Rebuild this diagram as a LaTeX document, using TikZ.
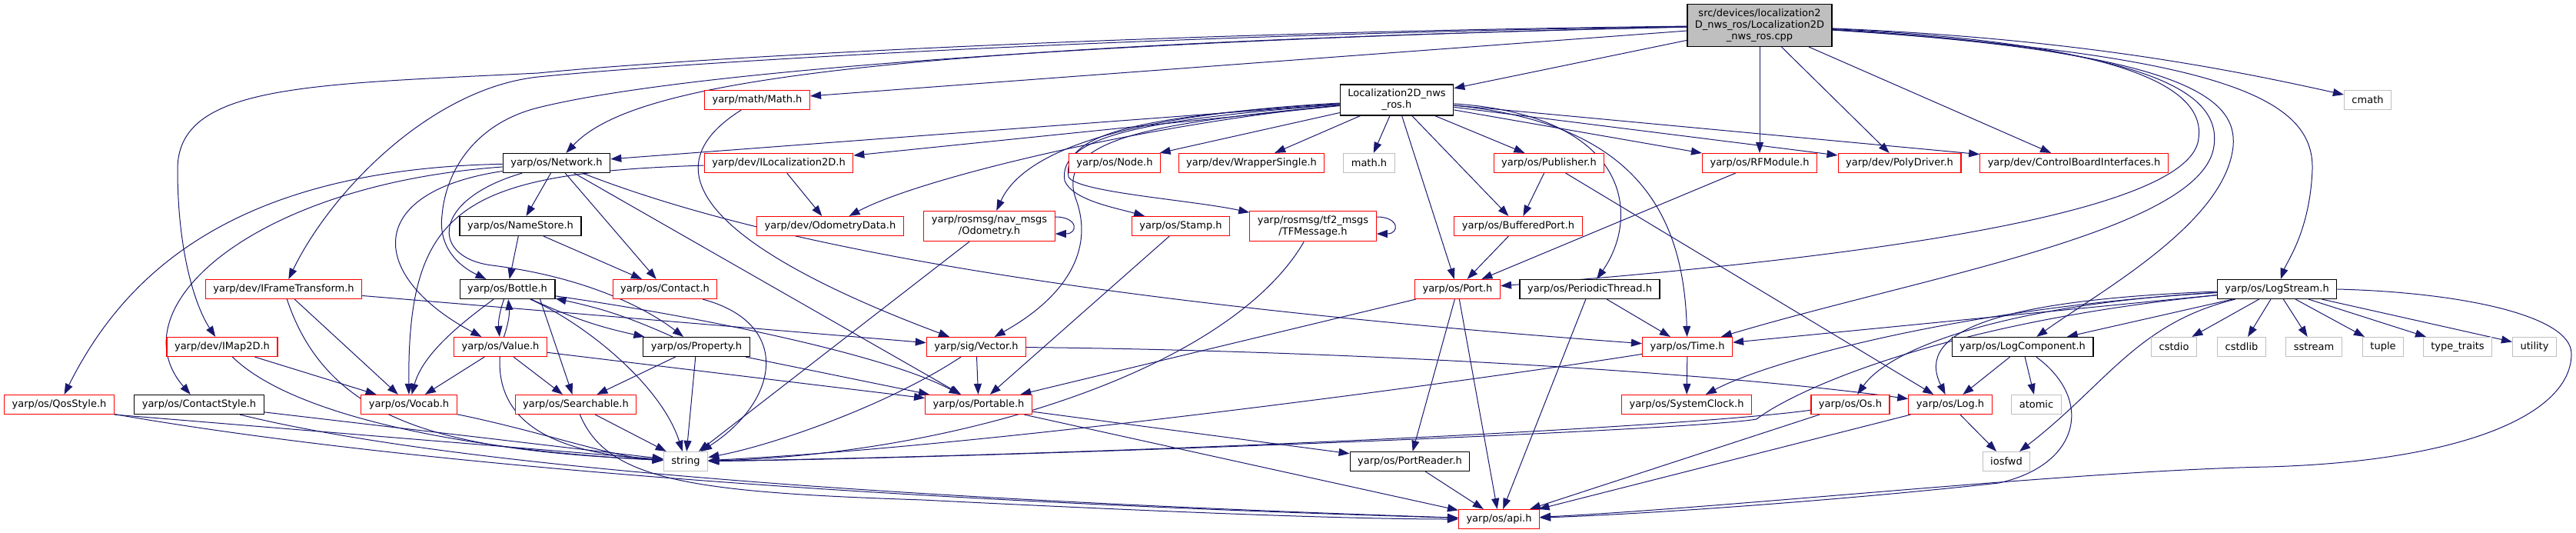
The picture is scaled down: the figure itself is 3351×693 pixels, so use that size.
\documentclass[tikz,border=0pt]{standalone}
\usepackage{fontspec}
\setmainfont{DejaVu Sans}
\usetikzlibrary{arrows.meta}
\usetikzlibrary{backgrounds}

\definecolor{edgeblue}{HTML}{191970}
\definecolor{hdrred}{HTML}{FF0000}
\definecolor{hdrgray}{HTML}{BFBFBF}

\begin{document}
\begin{tikzpicture}[x=1pt, y=-1pt,
  every node/.style={font=\fontsize{13}{15}\selectfont, align=center, fill=white,
    inner xsep=10pt, inner ysep=6pt, minimum height=25pt, line width=1.2pt},
  incl/.style={draw=black},
  inclred/.style={draw=hdrred},
  inclsys/.style={draw=hdrgray},
  srcfile/.style={draw=black, fill=hdrgray},
  dep/.style={draw=edgeblue, line width=1pt, -{Triangle[length=14pt, width=10pt]}}]
  \useasboundingbox (0,0) rectangle (3351,693);

  % the source file and the headers it pulls in, row by row
  \node[srcfile] (root) at (2289,33) {src/devices/localization2\\D\_nws\_ros/Localization2D\\\_nws\_ros.cpp};

  \node[incl] (loc) at (1817,130) {Localization2D\_nws\\\_ros.h};
  \node[inclred] (math) at (985,130) {yarp/math/Math.h};
  \node[inclsys] (cmath) at (3080,130) {cmath};

  \node[incl] (network) at (724,212) {yarp/os/Network.h};
  \node[inclred] (iloc) at (1013,212) {yarp/dev/ILocalization2D.h};
  \node[inclred] (osnode) at (1450,212) {yarp/os/Node.h};
  \node[inclred] (wrapper) at (1628,212) {yarp/dev/WrapperSingle.h};
  \node[inclsys] (mathh) at (1781,212) {math.h};
  \node[inclred] (publisher) at (2015,212) {yarp/os/Publisher.h};
  \node[inclred] (rfmodule) at (2289,212) {yarp/os/RFModule.h};
  \node[inclred] (polydriver) at (2471,212) {yarp/dev/PolyDriver.h};
  \node[inclred] (cbi) at (2698,212) {yarp/dev/ControlBoardInterfaces.h};

  \node[incl] (namestore) at (677,294) {yarp/os/NameStore.h};
  \node[inclred] (odomdata) at (1080,294) {yarp/dev/OdometryData.h};
  \node[inclred] (navodom) at (1287,294) {yarp/rosmsg/nav\_msgs\\/Odometry.h};
  \node[inclred] (stamp) at (1536,294) {yarp/os/Stamp.h};
  \node[inclred] (tfmsg) at (1708,294) {yarp/rosmsg/tf2\_msgs\\/TFMessage.h};
  \node[inclred] (bufport) at (1975,294) {yarp/os/BufferedPort.h};

  \node[inclred] (iframe) at (369,376) {yarp/dev/IFrameTransform.h};
  \node[incl] (bottle) at (660,376) {yarp/os/Bottle.h};
  \node[inclred] (contact) at (865,376) {yarp/os/Contact.h};
  \node[inclred] (port) at (1896,376) {yarp/os/Port.h};
  \node[incl] (periodic) at (2068,376) {yarp/os/PeriodicThread.h};
  \node[incl] (logstream) at (2962,376) {yarp/os/LogStream.h};

  \node[inclred] (imap) at (289,451) {yarp/dev/IMap2D.h};
  \node[inclred] (value) at (651,451) {yarp/os/Value.h};
  \node[incl] (property) at (906,451) {yarp/os/Property.h};
  \node[inclred] (vector) at (1270,451) {yarp/sig/Vector.h};
  \node[inclred] (time) at (2195,451) {yarp/os/Time.h};
  \node[incl] (logcomp) at (2631,451) {yarp/os/LogComponent.h};
  \foreach \n/\x/\t in {cstdio/2828/cstdio, cstdlib/2916/cstdlib, sstream/3010/sstream,
      tuple/3100/tuple, typetraits/3197/type\_traits, utility/3297/utility}
    \node[inclsys] (\n) at (\x,451) {\t};

  \node[inclred] (qos) at (77,526) {yarp/os/QosStyle.h};
  \node[incl] (contactstyle) at (259,526) {yarp/os/ContactStyle.h};
  \node[inclred] (vocab) at (532,526) {yarp/os/Vocab.h};
  \node[inclred] (searchable) at (749,526) {yarp/os/Searchable.h};
  \node[inclred] (portable) at (1273,526) {yarp/os/Portable.h};
  \node[inclred] (sysclock) at (2194,526) {yarp/os/SystemClock.h};
  \node[inclred] (os) at (2407,526) {yarp/os/Os.h};
  \node[inclred] (log) at (2537,526) {yarp/os/Log.h};
  \node[inclsys] (atomic) at (2649,526) {atomic};

  \node[inclsys] (string) at (892,600) {string};
  \node[incl] (portreader) at (1834,600) {yarp/os/PortReader.h};
  \node[inclsys] (iosfwd) at (2610,600) {iosfwd};

  \node[inclred] (api) at (1950,675) {yarp/os/api.h};

  \begin{pgfonlayer}{background}
    % includes of the .cpp file
    \draw[dep] (root) -- (loc);
    \draw[dep] (root) -- (math);
    \draw[dep] (root) .. controls (1100,60) and (820,110) .. (network);
    \draw[dep] (root) .. controls (1500,45) and (900,80) .. (700,100) .. controls (560,115) and (430,250) .. (iframe);
    \draw[dep] (root) .. controls (1500,42) and (900,75) .. (700,95) .. controls (400,110) and (231,110) .. (231,220) .. controls (231,330) and (255,400) .. (imap);
    \draw[dep] (root) .. controls (1500,50) and (900,90) .. (700,140) .. controls (620,160) and (580,220) .. (575,280) .. controls (570,320) and (595,345) .. (bottle);
    \draw[dep] (root) -- (rfmodule);
    \draw[dep] (root) -- (polydriver);
    \draw[dep] (root) -- (cbi);
    \draw[dep] (root) .. controls (2700,50) and (2900,90) .. (cmath);
    \draw[dep] (root) .. controls (2750,55) and (2870,110) .. (2860,180) .. controls (2850,290) and (2300,345) .. (port);
    \draw[dep] (root) .. controls (2800,62) and (2890,120) .. (2880,190) .. controls (2865,300) and (2500,360) .. (time);
    \draw[dep] (root) .. controls (2850,68) and (2910,130) .. (2905,190) .. controls (2895,290) and (2730,380) .. (logcomp);
    \draw[dep] (root) .. controls (2900,72) and (3010,130) .. (3008,220) .. controls (3005,300) and (2975,340) .. (logstream);

    % Localization2D_nws_ros.h
    \draw[dep] (loc) -- (network);
    \draw[dep] (loc) -- (iloc);
    \draw[dep] (loc) .. controls (1500,160) and (1200,230) .. (odomdata);
    \draw[dep] (loc) .. controls (1450,150) and (1330,200) .. (navodom);
    \draw[dep] (loc) -- (osnode);
    \draw[dep] (loc) -- (wrapper);
    \draw[dep] (loc) -- (mathh);
    \draw[dep] (loc) -- (publisher);
    \draw[dep] (loc) -- (bufport);
    \draw[dep] (loc) -- (port);
    \draw[dep] (loc) .. controls (2120,150) and (2135,280) .. (periodic);
    \draw[dep] (loc) .. controls (2130,160) and (2190,280) .. (time);
    \draw[dep] (loc) -- (rfmodule);
    \draw[dep] (loc) -- (polydriver);
    \draw[dep] (loc) -- (cbi);
    \draw[dep] (loc) .. controls (1500,150) and (1380,170) .. (1390,230) .. controls (1400,250) and (1550,260) .. (tfmsg);
    \draw[dep] (loc) .. controls (1500,155) and (1375,175) .. (1385,235) .. controls (1395,260) and (1450,270) .. (stamp);
    \draw[dep] (loc) .. controls (1500,160) and (1370,180) .. (1400,260) .. controls (1425,330) and (1380,390) .. (vector);

    \draw[dep] (math) .. controls (810,240) and (1000,350) .. (vector);

    % yarp/os/Network.h
    \draw[dep] (network) .. controls (300,220) and (160,360) .. (qos);
    \draw[dep] (network) .. controls (330,240) and (150,400) .. (contactstyle);
    \draw[dep] (network) .. controls (470,250) and (480,360) .. (value);
    \draw[dep] (network) .. controls (560,260) and (560,335) .. (640,345) .. controls (760,360) and (840,400) .. (property);
    \draw[dep] (network) -- (namestore);
    \draw[dep] (network) -- (contact);
    \draw[dep] (network) -- (portable);
    \draw[dep] (network) .. controls (950,300) and (1300,385) .. (time);

    \draw[dep] (iloc) -- (odomdata);
    \draw[dep] (iloc) .. controls (600,225) and (530,270) .. (vocab);
    \draw[dep] (namestore) -- (bottle);
    \draw[dep] (namestore) -- (contact);

    % rosmsg headers include themselves
    \draw[dep] ([yshift=12pt]navodom.east) .. controls +(30,0) and +(30,0) .. ([yshift=-10pt]navodom.east);
    \draw[dep] ([yshift=12pt]tfmsg.east) .. controls +(30,0) and +(30,0) .. ([yshift=-10pt]tfmsg.east);
    \draw[dep] (navodom) -- (string);
    \draw[dep] (tfmsg) .. controls (1600,480) and (1250,590) .. (string);
    \draw[dep] (stamp) -- (portable);
    \draw[dep] (bufport) -- (port);
    \draw[dep] (publisher) -- (bufport);
    \draw[dep] (publisher) -- (log);
    \draw[dep] (rfmodule) -- (port);

    \draw[dep] (iframe) -- (vector);
    \draw[dep] (iframe) -- (vocab);
    \draw[dep] (iframe) .. controls (430,560) and (600,585) .. (string);
    \draw[dep] (imap) -- (vocab);
    \draw[dep] (imap) .. controls (380,540) and (600,585) .. (string);

    % yarp/os/Bottle.h and friends
    \draw[dep] (bottle) to[bend right=12] (value);
    \draw[dep] (value) to[bend right=12] (bottle);
    \draw[dep] (bottle) to[bend right=6] (property);
    \draw[dep] (property) to[bend right=6] (bottle);
    \draw[dep] ([xshift=-20pt]bottle.south east) -- (searchable);
    \draw[dep] (bottle) .. controls (600,420) and (550,460) .. (vocab);
    \draw[dep] (bottle) .. controls (760,420) and (860,500) .. (string);
    \draw[dep] (bottle) .. controls (900,410) and (1150,460) .. (portable);
    \draw[dep] (value) -- (vocab);
    \draw[dep] (value) .. controls (645,560) and (740,590) .. (string);
    \draw[dep] (value) -- (portable);
    \draw[dep] (value) -- (searchable);
    \draw[dep] (property) -- (searchable);
    \draw[dep] (property) -- (string);
    \draw[dep] (property) -- (portable);
    \draw[dep] (contact) .. controls (1030,420) and (1015,520) .. (string);

    \draw[dep] (vector) -- (portable);
    \draw[dep] (vector) .. controls (1150,530) and (1000,580) .. (string);
    \draw[dep] (vector) .. controls (1700,455) and (2200,480) .. (log);

    \draw[dep] (port) -- (portable);
    \draw[dep] (port) -- (portreader);
    \draw[dep] (port) -- (api);
    \draw[dep] (periodic) -- (time);
    \draw[dep] (periodic) -- (api);

    % yarp/os/LogStream.h
    \foreach \n in {cstdio,cstdlib,sstream,tuple,typetraits,utility}
      \draw[dep] (logstream) -- (\n);
    \draw[dep] (logstream) -- (logcomp);
    \draw[dep] (logstream) -- (time);
    \draw[dep] (logstream) .. controls (2550,400) and (2300,470) .. (sysclock);
    \draw[dep] (logstream) .. controls (2620,395) and (2460,450) .. (os);
    \draw[dep] (logstream) .. controls (2600,390) and (2490,430) .. (log);
    \draw[dep] (logstream) .. controls (2520,420) and (2330,510) .. (2285,545) .. controls (2200,560) and (1300,595) .. (string);
    \draw[dep] (logstream) .. controls (2780,420) and (2740,500) .. (iosfwd);
    \draw[dep] (logstream.east) .. controls (3200,380) and (3345,410) .. (3345,460) .. controls (3345,540) and (3200,600) .. (2950,607) .. controls (2700,612) and (2250,660) .. (api);

    \draw[dep] (logcomp) -- (log);
    \draw[dep] (logcomp) -- (atomic);
    \draw[dep] (logcomp) .. controls (2725,520) and (2705,605) .. (2600,628) .. controls (2400,650) and (2150,668) .. (api);

    \draw[dep] (time) -- (sysclock);
    \draw[dep] (time) .. controls (1950,490) and (1300,580) .. (string);
    \draw[dep] (os) .. controls (2200,555) and (1500,590) .. (string);
    \draw[dep] (os) -- (api);
    \draw[dep] (log) -- (iosfwd);
    \draw[dep] (log) -- (api);

    \draw[dep] (portable) -- (portreader);
    \draw[dep] (portable) -- (api);
    \draw[dep] (portreader) -- (api);
    \draw[dep] (searchable) -- (string);
    \draw[dep] (searchable) .. controls (790,625) and (900,640) .. (1200,650) .. controls (1500,665) and (1750,675) .. (api);
    \draw[dep] (vocab) .. controls (700,560) and (800,595) .. (string);

    % the *Style headers
    \draw[dep] (qos.south east) -- (string);
    \draw[dep] (qos) .. controls (500,600) and (1100,650) .. (api);
    \draw[dep] (contactstyle) -- (string);
    \draw[dep] (contactstyle) .. controls (600,610) and (1200,650) .. (api);
  \end{pgfonlayer}
\end{tikzpicture}
\end{document}
